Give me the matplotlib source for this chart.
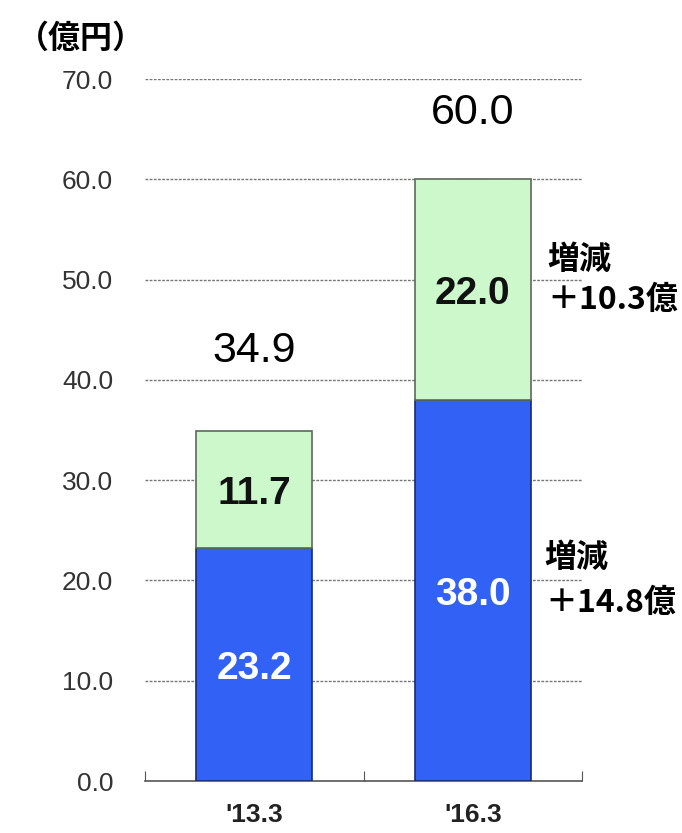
import matplotlib.pyplot as plt

periods = ["'13.3", "'16.3"]
lower = [23.2, 38.0]
upper = [11.7, 22.0]
totals = [34.9, 60.0]
change_lower = "＋14.8億"
change_upper = "＋10.3億"
yticks = [0, 10, 20, 30, 40, 50, 60, 70]

jp = ["Noto Sans CJK JP", "DejaVu Sans"]
num = ["Liberation Sans", "DejaVu Sans"]

fig = plt.figure(figsize=(6.82, 8.33), dpi=100)
ax = fig.add_axes([0.2126, 0.0624, 0.6408, 0.8426])

x = list(range(len(periods)))
ax.bar(x, lower, width=0.53, color="#3262f5", edgecolor="#1a2a70", linewidth=1.2, zorder=3)
ax.bar(x, upper, width=0.53, bottom=lower, color="#ccf8cc", edgecolor="#5a6a5a", linewidth=1.2, zorder=3)

for i in x:
    ax.text(i, lower[i] / 2 - 0.4, f"{lower[i]:.1f}", ha="center", va="center",
            fontsize=28, fontweight="bold", color="white", family=num, zorder=4)
    ax.text(i, lower[i] + upper[i] / 2 - 0.4, f"{upper[i]:.1f}", ha="center", va="center",
            fontsize=28, fontweight="bold", color="#111111", family=num, zorder=4)
    ax.text(i, min(totals[i] + 8.0, 66.6), f"{totals[i]:.1f}", ha="center", va="center",
            fontsize=31, color="black", family=num, zorder=4)

ax.set_xlim(-0.5, 1.5)
ax.set_ylim(0, 70)
ax.set_yticks(yticks)
ax.set_yticklabels([f"{v:.1f}" for v in yticks], family=num, fontsize=19, color="#333333")
ax.tick_params(axis="y", length=0, pad=23)
ax.set_xticks([-0.5, 0.5, 1.5])
ax.set_xticklabels([])
ax.tick_params(axis="x", direction="in", length=7, color="#555555")
for i, p in enumerate(periods):
    ax.text(i, -3.4, p, ha="center", va="center", fontsize=19, fontweight="bold",
            family=num, color="#222222")

for v in yticks[1:]:
    ax.axhline(v, color="#777777", linestyle=(0, (2, 1)), linewidth=1.0, zorder=1)

for s in ["top", "right", "left"]:
    ax.spines[s].set_visible(False)
ax.spines["bottom"].set_color("#555555")
ax.spines["bottom"].set_linewidth(1.2)

fig.text(0.025, 0.953, "（億円）", family=jp, fontsize=23, fontweight="bold", va="center", ha="left")

fig.text(0.802, 0.688, "増減", family=jp, fontsize=23, fontweight="bold", va="center", ha="left")
fig.text(0.803, 0.640, change_upper, family=jp, fontsize=23, fontweight="bold", va="center", ha="left")
fig.text(0.798, 0.330, "増減", family=jp, fontsize=23, fontweight="bold", va="center", ha="left")
fig.text(0.800, 0.276, change_lower, family=jp, fontsize=23, fontweight="bold", va="center", ha="left")

fig.savefig("out.png", dpi=100)
